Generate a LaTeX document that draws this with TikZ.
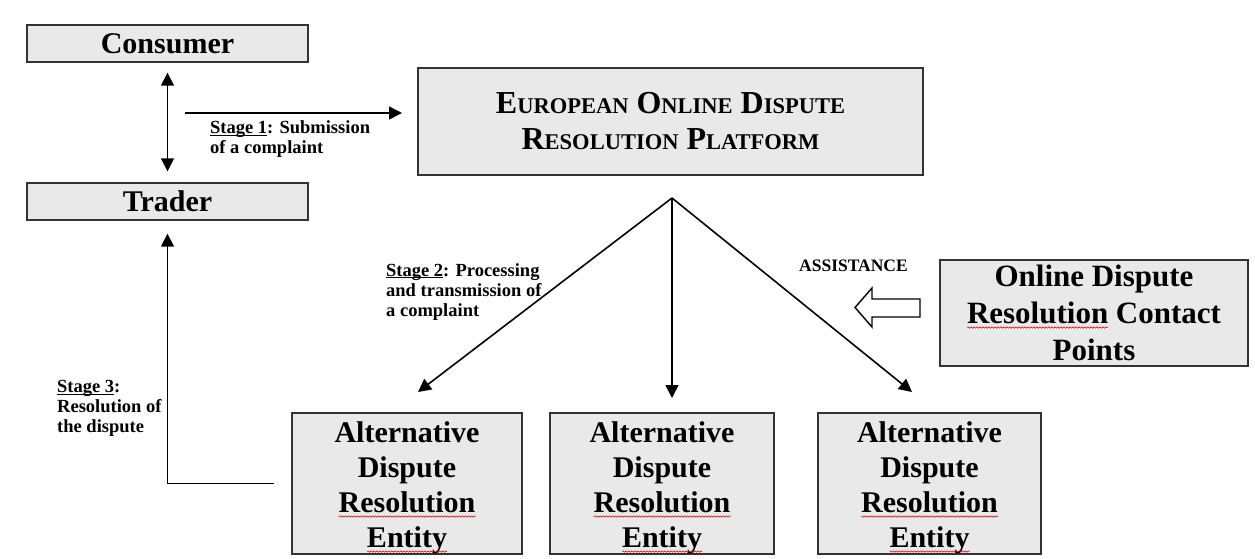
\documentclass[tikz,border=0pt]{standalone}
\usepackage{fontspec}
\setmainfont{Liberation Serif}
\usetikzlibrary{arrows.meta,decorations.pathmorphing}
\newcommand\fsc[2]{{\fontsize{32}{36}\selectfont #1}{\fontsize{22.5}{36}\selectfont #2}}
\newsavebox\ulbox
\newcommand\ulword[1]{\sbox\ulbox{#1}\rlap{\rule[-2pt]{\wd\ulbox}{0.9pt}}\usebox\ulbox}
\begin{document}
\begin{tikzpicture}[x=1pt,y=-1pt,
  box/.style={draw=black!80, line width=1.4pt, fill=gray!17, inner sep=0pt},
  arr/.style={line width=1.6pt, -{Triangle[length=13pt,width=13pt]}},
  dblarr/.style={line width=1.6pt, {Triangle[length=13pt,width=13pt]}-{Triangle[length=13pt,width=13pt]}},
  lbl/.style={font=\bfseries\fontsize{18.5}{20}\selectfont, align=left, inner sep=0pt, anchor=north west},
  adrtext/.style={font=\bfseries\fontsize{30}{35}\selectfont, align=center, inner sep=0pt},
  wavy/.style={draw=red!75!black, line width=0.5pt, decorate, decoration={snake, segment length=3pt, amplitude=0.7pt}}
]
\useasboundingbox[fill=white] (0,0) rectangle (1255,558);

% boxes
\node[box, minimum width=281pt, minimum height=37pt, font=\bfseries\fontsize{30}{34}\selectfont] (consumer) at (167.5,43.5) {Consumer};
\node[box, minimum width=281pt, minimum height=37pt, font=\bfseries\fontsize{30}{34}\selectfont] (trader) at (167.5,201.5) {Trader};
\node[box, minimum width=505pt, minimum height=107pt, align=center, font=\bfseries\fontsize{32}{36}\selectfont] (eodr) at (670.5,121.5)
  {\fsc{E}{UROPEAN} \fsc{O}{NLINE} \fsc{D}{ISPUTE}\\\fsc{R}{ESOLUTION} \fsc{P}{LATFORM}};
\node[box, minimum width=308pt, minimum height=106pt, align=center, font=\bfseries\fontsize{31}{37}\selectfont] (odr) at (1094,313)
  {Online Dispute\\Resolution Contact\\Points};

\node[box, minimum width=230pt, minimum height=141pt] (adr1) at (407,483.5) {};
\node[box, minimum width=224pt, minimum height=141pt] (adr2) at (662,483.5) {};
\node[box, minimum width=223pt, minimum height=141pt] (adr3) at (929.5,483.5) {};
\node[adrtext] (adr1t) at ([yshift=-4.5pt]adr1.center) {Alternative\\Dispute\\Resolution\\Entity};
\node[adrtext] (adr2t) at ([yshift=-4.5pt]adr2.center) {Alternative\\Dispute\\Resolution\\Entity};
\node[adrtext] (adr3t) at ([yshift=-4.5pt]adr3.center) {Alternative\\Dispute\\Resolution\\Entity};

% spell-check squiggles
\foreach \c in {407,662,929.5}{
  \draw[wavy] (\c-68.5,516.5) -- (\c+68.5,516.5);
  \draw[wavy] (\c-40,551.5) -- (\c+40,551.5);
}
\draw[wavy] (967,327.5) -- (1108,327.5);

% labels
\node[lbl] (s1) at (210,120.5) {\ulword{Stage 1}: Submission\\of a complaint};
\node[lbl] (s2) at (386,263) {\ulword{Stage 2}: Processing\\and transmission of\\a complaint};
\node[lbl] (s3) at (57,380) {\ulword{Stage 3}:\\Resolution of\\the dispute};
\node[font=\bfseries\fontsize{17.5}{20}\selectfont, inner sep=0pt] (assist) at (853.5,266) {ASSISTANCE};

% connectors
\draw[dblarr] ([yshift=-10pt]consumer.south) -- ([yshift=11pt]trader.north);
\coordinate (s1a) at (185,113);
\coordinate (s1b) at (402,113);
\draw[arr] (s1a) -- (s1b);

\coordinate (apex) at (672,198);
\coordinate (t1) at (418,392);
\coordinate (t2) at (672,398);
\coordinate (t3) at (912,392);
\draw[arr] (apex) -- (t1);
\draw[arr] (apex) -- (t2);
\draw[arr] (apex) -- (t3);

\draw[arr] ([xshift=-17pt]adr1.west) -| ([yshift=-13pt]trader.south);

% hollow assistance arrow
\draw[line width=1.4pt, fill=white] (855,307.5) -- (872,288) -- (872,299) -- (920,299) -- (920,317) -- (872,317) -- (872,327) -- cycle;
\end{tikzpicture}
\end{document}
